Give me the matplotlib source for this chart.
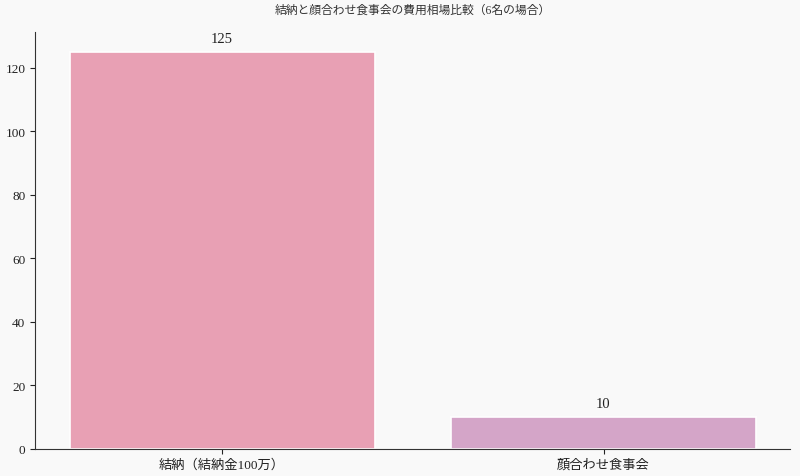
import matplotlib
matplotlib.use("Agg")
import matplotlib.pyplot as plt

plt.rcParams['font.family'] = ['Liberation Serif', 'Noto Sans CJK JP', 'DejaVu Sans']

categories = ['結納（結納金100万）', '顔合わせ食事会']
costs = [125, 10]
bar_colors = ['#e8a0b4', '#d4a5c8']
title = '結納と顔合わせ食事会の費用相場比較（6名の場合）'

fig = plt.figure(figsize=(8, 4.77), dpi=100, facecolor='#f9f9f9')
ax = fig.add_axes([0.044, 0.057, 0.944, 0.874])
ax.set_facecolor('#f9f9f9')

bars = ax.bar(categories, costs, width=0.8, color=bar_colors,
              edgecolor='white', linewidth=1.2)
for b, v in zip(bars, costs):
    ax.annotate(f'{v}', (b.get_x() + b.get_width() / 2, b.get_height()),
                xytext=(0, 5), textcoords='offset points',
                ha='center', va='bottom', fontsize=10.5, color='#222222')

ax.set_title(title, fontsize=8.5, color='#333333', pad=14)
ax.set_yticks([0, 20, 40, 60, 80, 100, 120])
ax.tick_params(labelsize=9.5, colors='#222222')
for s in ['top', 'right']:
    ax.spines[s].set_visible(False)
for s in ['left', 'bottom']:
    ax.spines[s].set_color('#333333')

fig.savefig('out.png', dpi=100, facecolor=fig.get_facecolor())
